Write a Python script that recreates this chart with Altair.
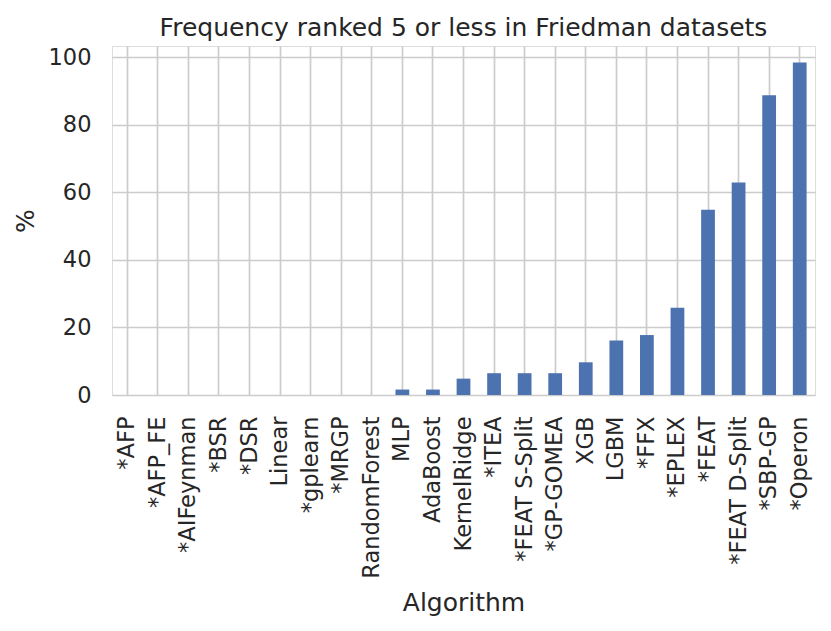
import altair as alt
import pandas as pd

algorithms = ["*AFP", "*AFP_FE", "*AIFeynman", "*BSR", "*DSR", "Linear", "*gplearn",
              "*MRGP", "RandomForest", "MLP", "AdaBoost", "KernelRidge", "*ITEA",
              "*FEAT S-Split", "*GP-GOMEA", "XGB", "LGBM", "*FFX", "*EPLEX", "*FEAT",
              "*FEAT D-Split", "*SBP-GP", "*Operon"]
percent = [0, 0, 0, 0, 0, 0, 0,
           0, 0, 1.61, 1.61, 4.84, 6.45,
           6.45, 6.45, 9.68, 16.13, 17.74, 25.81, 54.84,
           62.90, 88.71, 98.39]
y_ticks = [0, 20, 40, 60, 80, 100]

df = pd.DataFrame({"Algorithm": algorithms, "pct": percent})

FONT = "DejaVu Sans"
TXT = "#262626"
GRID = "#cccccc"

chart = alt.Chart(df).mark_bar(color="#4c72b0").encode(
    x=alt.X("Algorithm:N", sort=algorithms,
            scale=alt.Scale(paddingInner=0.55, paddingOuter=0.275),
            axis=alt.Axis(title="Algorithm", labelAngle=270, labelAlign="right",
                          labelBaseline="middle", labelPadding=21, ticks=False, tickSize=0,
                          domain=False, grid=True, gridColor=GRID, gridWidth=1.7,
                          labelFontSize=22.5, labelColor=TXT, labelFont=FONT,
                          titleFontSize=25, titleColor=TXT, titleFont=FONT,
                          titleFontWeight="normal", titleX=351.5, titleY=215,
                          titleAlign="center", titleBaseline="alphabetic",
                          bandPosition=0.5, labelOverlap=False)),
    y=alt.Y("pct:Q",
            scale=alt.Scale(domain=[0, 103.3], nice=False, zero=True),
            axis=alt.Axis(title="%", values=y_ticks, format="d", labelPadding=21,
                          ticks=False, tickSize=0, domain=False, grid=True,
                          gridColor=GRID, gridWidth=1.7,
                          labelFontSize=22.5, labelColor=TXT, labelFont=FONT,
                          titleFontSize=25, titleColor=TXT, titleFont=FONT,
                          titleFontWeight="normal", titleAngle=270, titleX=-86.5,
                          titleY=174.5, titleAlign="center", titleBaseline="middle")),
).properties(
    width=703,
    height=349,
    title=alt.TitleParams("Frequency ranked 5 or less in Friedman datasets",
                          fontSize=25, font=FONT, color=TXT, fontWeight="normal",
                          anchor="middle", frame="group", baseline="alphabetic",
                          offset=12, dy=27),
    autosize=alt.AutoSizeParams(type="none"),
    padding={"left": 104, "top": 38, "right": 8, "bottom": 228},
).configure_view(
    stroke=GRID, strokeWidth=2
).configure(background="white")

chart.save("out.html", embed_options={"renderer": "svg", "actions": False})
